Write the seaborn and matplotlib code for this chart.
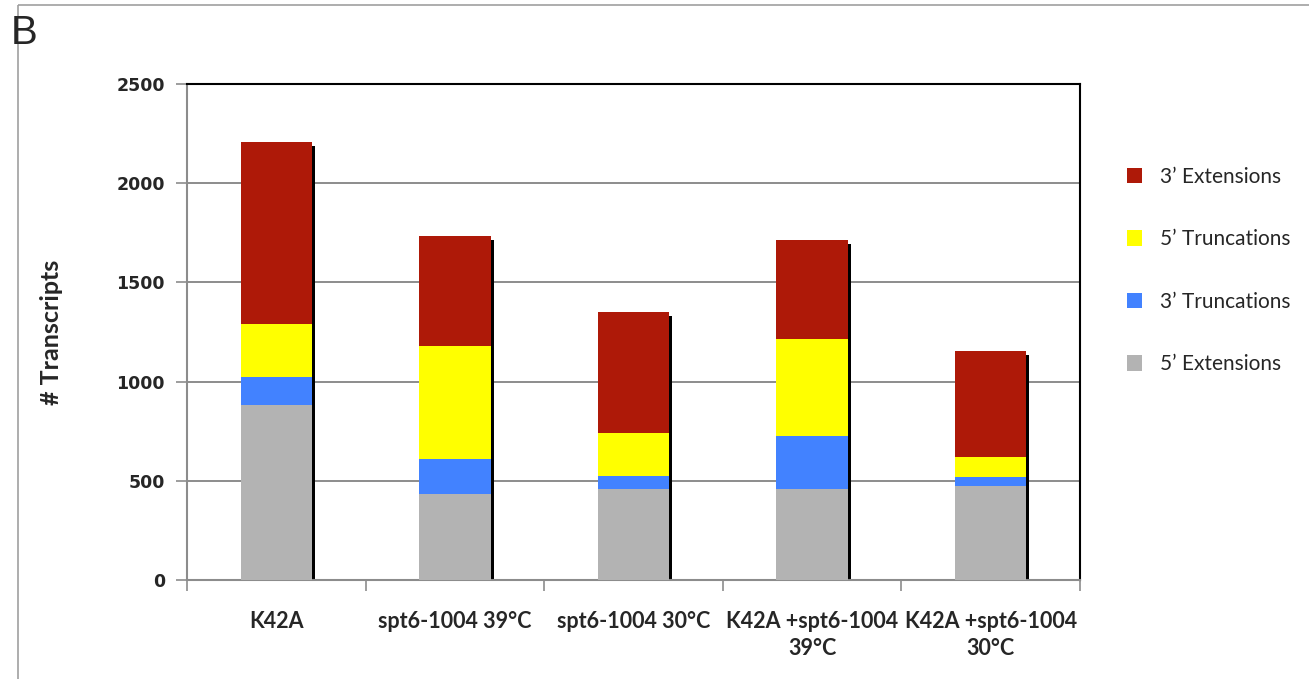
import matplotlib
matplotlib.use("Agg")
import matplotlib.pyplot as plt
import matplotlib.transforms as mtransforms
from matplotlib.patches import Patch, Rectangle
import numpy as np
import pandas as pd
import seaborn as sns

# Transcript counts per strain / condition
conditions = ["K42A", "spt6-1004 39°C", "spt6-1004 30°C",
              "K42A +spt6-1004\n39°C", "K42A +spt6-1004\n30°C"]
ext5 = [880, 432, 460, 460, 472]      # 5' Extensions
trunc3 = [143, 179, 63, 266, 46]      # 3' Truncations
trunc5 = [266, 567, 216, 490, 103]    # 5' Truncations
ext3 = [921, 556, 612, 498, 535]      # 3' Extensions

series_names = ["3’ Extensions", "5’ Truncations", "3’ Truncations", "5’ Extensions"]
colors = {"3’ Extensions": "#AE1908", "5’ Truncations": "#FFFF00",
          "3’ Truncations": "#4282FF", "5’ Extensions": "#B3B3B3"}
y_ticks = [0, 500, 1000, 1500, 2000, 2500]

sns.set_theme(style="white")
plt.rcParams["font.family"] = ["DejaVu Sans"]

fig = plt.figure(figsize=(13.09, 6.79), dpi=100)
ax = fig.add_axes([187 / 1309, 1 - 580 / 679, (1080 - 187) / 1309, (580 - 84) / 679])

# cumulative layers, drawn from the tallest down so each stack shows its segments
c1 = np.array(ext5)
c2 = c1 + np.array(trunc3)
c3 = c2 + np.array(trunc5)
c4 = c3 + np.array(ext3)
df = pd.DataFrame({"cond": conditions, "c1": c1, "c2": c2, "c3": c3, "c4": c4})

# drop shadow behind each stack
sns.barplot(data=df, x="cond", y="c4", color="black", width=0.4, ax=ax,
            saturation=1, order=conditions, zorder=2)
shift = mtransforms.ScaledTranslation(3 / 100, -4 / 100, fig.dpi_scale_trans)
for p in ax.patches:
    p.set_transform(ax.transData + shift)
    p.set_linewidth(0)

layers = [("c4", "3’ Extensions"), ("c3", "5’ Truncations"),
          ("c2", "3’ Truncations"), ("c1", "5’ Extensions")]
for col, name in layers:
    sns.barplot(data=df, x="cond", y=col, color=colors[name], width=0.4, ax=ax,
                saturation=1, order=conditions, zorder=3, linewidth=0)

ax.set_xlim(-0.5, len(conditions) - 0.5)
ax.set_ylim(0, 2500)
ax.set_yticks(y_ticks)
ax.set_yticklabels([str(v) for v in y_ticks], fontweight="bold", fontsize=12.5)
ax.yaxis.grid(True, color="#8C8C8C", linewidth=1.4, zorder=0)
ax.set_axisbelow(True)

# category labels centred under bars, tick marks between categories
ax.set_xticks(np.arange(-0.5, len(conditions)), minor=False)
ax.set_xticklabels([])
ax.set_xticks(np.arange(len(conditions)), minor=True)
ax.set_xticklabels(conditions, minor=True, fontweight="bold", fontsize=15.5,
                   family="Lato", linespacing=1.4)
ax.tick_params(axis="x", which="minor", length=0, pad=22)
ax.tick_params(axis="x", which="major", length=8, color="#8C8C8C", width=1.2,
               direction="out", bottom=True)
ax.tick_params(axis="y", length=8, color="#8C8C8C", width=1.2, direction="out",
               left=True, pad=8)
ax.set_xlabel("")
ax.set_ylabel("# Transcripts", fontweight="bold", fontsize=18, family="Lato",
              labelpad=38)

for side in ["left", "bottom"]:
    ax.spines[side].set_color("#8C8C8C")
    ax.spines[side].set_linewidth(1.5)
for side in ["top", "right"]:
    ax.spines[side].set_color("black")
    ax.spines[side].set_linewidth(1.5)
    ax.spines[side].set_visible(True)

handles = [Patch(facecolor=colors[n], edgecolor="none", label=n) for n in series_names]
fig.legend(handles=handles, loc="upper left", bbox_to_anchor=(1108 / 1309, 1 - 148 / 679),
           frameon=False, prop={"family": "Lato", "size": 15},
           handlelength=0.75, handleheight=0.75, handletextpad=0.85, labelspacing=2.04)

# panel letter and frame
fig.text(11 / 1309, 1 - 44 / 679, "B", fontsize=29, family="Liberation Sans",
         ha="left", va="baseline")
fig.patches.append(Rectangle((18 / 1309, 1 - 5 / 679), 2, -2, transform=fig.transFigure,
                             fill=False, edgecolor="#A0A0A0", linewidth=1.2))

fig.savefig("out.png", dpi=100)
